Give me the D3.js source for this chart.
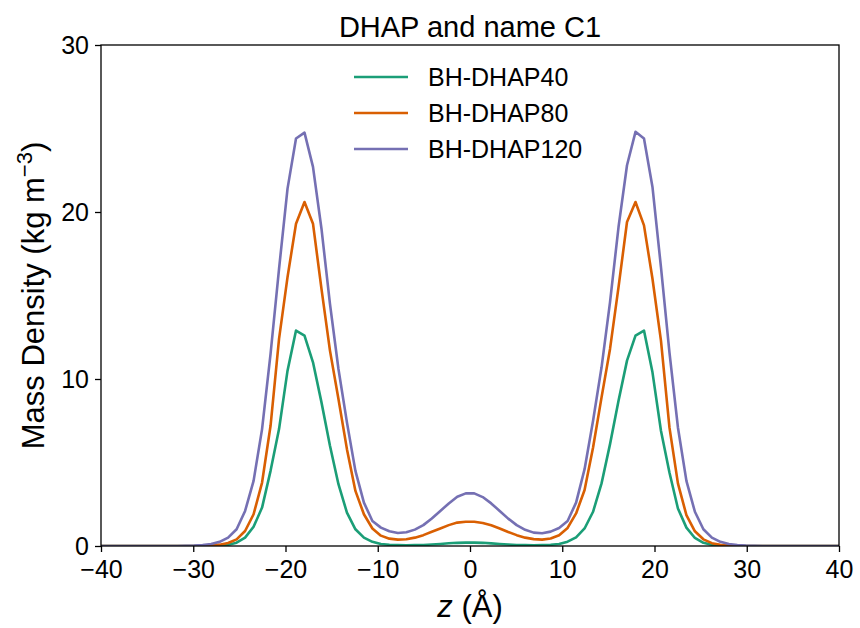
<!DOCTYPE html>
<html>
<head>
<meta charset="utf-8">
<script src="https://cdn.jsdelivr.net/npm/d3@7"></script>
<style>
  html, body { margin: 0; padding: 0; background: #fff; }
  svg { display: block; }
  text { font-family: "Liberation Sans", Arial, Helvetica, sans-serif; fill: #000; }
</style>
</head>
<body>
<svg id="chart" width="860" height="628"></svg>
<script>
// ---------- DATA ----------
const title = "DHAP and name C1";
const seriesNames = ["BH-DHAP40", "BH-DHAP80", "BH-DHAP120"];
const seriesColors = ["#1b9e77", "#d95f02", "#7570b3"];
const xTicks = [-40, -30, -20, -10, 0, 10, 20, 30, 40];
const yTicks = [0, 10, 20, 30];

const z = [
  -40.02, -39.10, -38.18, -37.26, -36.34, -35.42, -34.50, -33.58, -32.66, -31.74,
  -30.82, -29.90, -28.98, -28.06, -27.14, -26.22, -25.30, -24.38, -23.46, -22.54,
  -21.62, -20.70, -19.78, -18.86, -17.94, -17.02, -16.10, -15.18, -14.26, -13.34,
  -12.42, -11.50, -10.58, -9.66, -8.74, -7.82, -6.90, -5.98, -5.06, -4.14,
  -3.22, -2.30, -1.38, -0.46,
  0.46, 1.38, 2.30, 3.22, 4.14, 5.06, 5.98, 6.90, 7.82, 8.74,
  9.66, 10.58, 11.50, 12.42, 13.34, 14.26, 15.18, 16.10, 17.02, 17.94,
  18.86, 19.78, 20.70, 21.62, 22.54, 23.46, 24.38, 25.30, 26.22, 27.14,
  28.06, 28.98, 29.90, 30.82, 31.74, 32.66, 33.58, 34.50, 35.42, 36.34,
  37.26, 38.18, 39.10, 40.02
];

const dhap40 = [
  0, 0, 0, 0, 0, 0, 0, 0, 0, 0,
  0, 0, 0, 0.005, 0.02, 0.07, 0.2, 0.5, 1.15, 2.3,
  4.5, 7.0, 10.5, 12.9, 12.6, 11.0, 8.6, 6.0, 3.7, 2.0,
  1.0, 0.5, 0.25, 0.12, 0.07, 0.05, 0.04, 0.05, 0.06, 0.09,
  0.12, 0.16, 0.19, 0.2,
  0.2, 0.19, 0.16, 0.12, 0.09, 0.06, 0.05, 0.04, 0.05, 0.07,
  0.12, 0.26, 0.52, 1.05, 2.05, 3.75, 6.1, 8.7, 11.1, 12.6,
  12.9, 10.4, 6.9, 4.4, 2.25, 1.1, 0.48, 0.19, 0.07, 0.02,
  0.005, 0, 0, 0, 0, 0, 0, 0, 0, 0,
  0, 0, 0, 0
];

const dhap80 = [
  0, 0, 0, 0, 0, 0, 0, 0, 0, 0,
  0, 0, 0.01, 0.03, 0.08, 0.18, 0.4, 0.9, 1.9, 3.8,
  7.2, 12.4, 16.1, 19.3, 20.6, 19.3, 15.4, 11.7, 8.8, 5.8,
  3.3, 1.9, 1.05, 0.62, 0.44, 0.38, 0.4, 0.5, 0.65, 0.85,
  1.05, 1.25, 1.4, 1.45,
  1.45, 1.38, 1.24, 1.05, 0.84, 0.65, 0.5, 0.41, 0.38, 0.45,
  0.64, 1.08, 1.95, 3.35, 5.9, 8.9, 11.8, 15.5, 19.4, 20.6,
  19.2, 16.0, 12.3, 7.1, 3.75, 1.85, 0.88, 0.4, 0.17, 0.07,
  0.03, 0.01, 0, 0, 0, 0, 0, 0, 0, 0,
  0, 0, 0, 0
];

const dhap120 = [
  0, 0, 0, 0, 0, 0, 0, 0, 0, 0,
  0.015, 0.03, 0.06, 0.12, 0.25, 0.5, 1.0, 2.1, 3.9, 7.0,
  11.5, 16.6, 21.4, 24.4, 24.75, 22.7, 19.0, 14.5, 10.6, 7.4,
  4.5, 2.6, 1.5, 1.1, 0.88, 0.78, 0.82, 0.98, 1.25, 1.65,
  2.1, 2.55, 2.95, 3.15,
  3.15, 2.93, 2.55, 2.1, 1.64, 1.25, 0.97, 0.8, 0.76, 0.86,
  1.08, 1.5, 2.6, 4.6, 7.5, 10.7, 14.6, 19.1, 22.8, 24.8,
  24.4, 21.5, 16.7, 11.6, 7.1, 3.9, 2.05, 1.0, 0.5, 0.25,
  0.12, 0.06, 0.03, 0.015, 0, 0, 0, 0, 0, 0,
  0, 0, 0, 0
];

const seriesValues = [dhap40, dhap80, dhap120];

// ---------- LAYOUT ----------
const W = 860, H = 628;
const margin = { left: 101, right: 21, top: 45, bottom: 82 };
const iw = W - margin.left - margin.right;
const ih = H - margin.top - margin.bottom;

const svg = d3.select("#chart");
const g = svg.append("g").attr("transform", `translate(${margin.left},${margin.top})`);

const x = d3.scaleLinear().domain([-40, 40]).range([0, iw]);
const y = d3.scaleLinear().domain([0, 30]).range([ih, 0]);

svg.append("defs").append("clipPath").attr("id", "clip")
  .append("rect").attr("width", iw).attr("height", ih);

// lines
const line = d3.line().x(d => x(d[0])).y(d => y(d[1]));
const lg = g.append("g").attr("clip-path", "url(#clip)");
seriesValues.forEach((vals, i) => {
  lg.append("path")
    .datum(z.map((zz, k) => [zz, vals[k]]))
    .attr("fill", "none")
    .attr("stroke", seriesColors[i])
    .attr("stroke-width", 2.6)
    .attr("stroke-linejoin", "round")
    .attr("d", line);
});

// axes
const fmt = d3.format("d");
const xAxis = g.append("g").attr("transform", `translate(0,${ih})`)
  .call(d3.axisBottom(x).tickValues(xTicks).tickFormat(fmt).tickSize(6).tickPadding(8));
const yAxis = g.append("g")
  .call(d3.axisLeft(y).tickValues(yTicks).tickFormat(fmt).tickSize(6).tickPadding(6));
[xAxis, yAxis].forEach(a => {
  a.select(".domain").remove();
  a.selectAll(".tick line").attr("stroke", "#000").attr("stroke-width", 1.3);
  a.selectAll(".tick text").style("font-size", "25px")
    .style("font-family", '"Liberation Sans", Arial, sans-serif').attr("fill", "#000");
});

// frame
g.append("rect").attr("width", iw).attr("height", ih)
  .attr("fill", "none").attr("stroke", "#000").attr("stroke-width", 1.3);

// title
svg.append("text").attr("x", margin.left + iw / 2).attr("y", 37)
  .attr("text-anchor", "middle").style("font-size", "29px").text(title);

// x label
const xl = svg.append("text").attr("x", margin.left + iw / 2).attr("y", 617)
  .attr("text-anchor", "middle").style("font-size", "31px");
xl.append("tspan").style("font-style", "italic").text("z");
xl.append("tspan").text(" (Å)");

// y label
const yl = svg.append("text")
  .attr("transform", `translate(44,${margin.top + ih / 2}) rotate(-90)`)
  .attr("text-anchor", "middle").style("font-size", "31px");
yl.append("tspan").text("Mass Density (kg m");
yl.append("tspan").attr("dy", -12).style("font-size", "22px").text("−3");
yl.append("tspan").attr("dy", 12).text(")");

// legend
const leg = svg.append("g");
seriesNames.forEach((name, i) => {
  const yy = 77 + i * 36;
  leg.append("line").attr("x1", 354).attr("x2", 408).attr("y1", yy).attr("y2", yy)
    .attr("stroke", seriesColors[i]).attr("stroke-width", 2.6);
  leg.append("text").attr("x", 428).attr("y", yy + 9).style("font-size", "25px").text(name);
});
</script>
</body>
</html>
